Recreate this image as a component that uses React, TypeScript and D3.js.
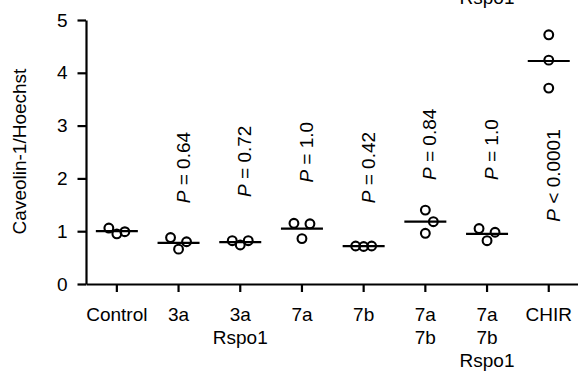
import * as d3 from 'd3';
import React, { useRef, useEffect } from 'react';

// groups on the x axis (lines of each label)
const categories = ['Control', '3a', '3a Rspo1', '7a', '7b', '7a 7b', '7a 7b Rspo1', 'CHIR'];
const categoryLines = [['Control'], ['3a'], ['3a', 'Rspo1'], ['7a'], ['7b'], ['7a', '7b'], ['7a', '7b', 'Rspo1'], ['CHIR']];

// Caveolin-1/Hoechst per replicate
const control = [1.06, 0.95, 0.99];
const g3a = [0.88, 0.66, 0.8];
const g3aRspo1 = [0.82, 0.74, 0.82];
const g7a = [1.15, 0.86, 1.14];
const g7b = [0.72, 0.71, 0.72];
const g7a7b = [1.4, 1.18, 0.96];
const g7a7bRspo1 = [1.05, 0.98, 0.82];
const chir = [4.72, 4.24, 3.71];
const values = [control, g3a, g3aRspo1, g7a, g7b, g7a7b, g7a7bRspo1, chir];

// horizontal scatter slot of each replicate
const slots = [[-1, 0, 1], [-1, 0, 1], [-1, 0, 1], [-1, 0, 1], [-1, 0, 1], [0, 1, 0], [-1, 1, 0], [0, 0, 0]];

// P values vs control, and where the rotated label starts (axis units)
const pLabels = [null, '= 0.64', '= 0.72', '= 1.0', '= 0.42', '= 0.84', '= 1.0', '< 0.0001'];
const pStart = [null, 1.53, 1.65, 1.92, 1.53, 1.97, 1.97, 1.18];

const yTicks = [0, 1, 2, 3, 4, 5];

function App() {
    const ref = useRef();
    const width = 578;
    const height = 373;
    const font = 'Liberation Sans, Arial, Helvetica, sans-serif';

    const x = d3.scaleBand().domain(categories).range([86, 579.6]);
    const y = d3.scaleLinear().domain([0, 5]).range([284, 20]);
    const cx = (c) => x(c) + x.bandwidth() / 2;

    useEffect(() => {
        const svg = d3.select(ref.current);
        svg.selectAll('*').remove();

        // stray label from panel above
        svg.append('text')
            .attr('x', cx(categories[6]))
            .attr('y', 4)
            .attr('text-anchor', 'middle')
            .attr('font-family', font)
            .attr('font-size', 19)
            .text('Rspo1');

        const yAxis = svg.append('g')
            .attr('transform', 'translate(86,0)')
            .call(d3.axisLeft(y).tickValues(yTicks).tickFormat(d3.format('d'))
                .tickSize(8.5).tickSizeOuter(0).tickPadding(10));
        yAxis.selectAll('path, line').attr('stroke', '#000').attr('stroke-width', 2.2);
        yAxis.selectAll('text').attr('font-family', font).attr('font-size', 19).attr('fill', '#000');

        const xAxis = svg.append('g')
            .attr('transform', 'translate(0,284)')
            .call(d3.axisBottom(x).tickSize(8).tickSizeOuter(0).tickFormat(() => ''));
        xAxis.selectAll('path, line').attr('stroke', '#000').attr('stroke-width', 2.2);

        // category labels
        const labels = svg.append('g');
        categories.forEach((c, i) => {
            const t = labels.append('text')
                .attr('text-anchor', 'middle')
                .attr('font-family', font)
                .attr('font-size', 19);
            categoryLines[i].forEach((line, j) => {
                t.append('tspan').attr('x', cx(c)).attr('y', 321 + j * 22.8).text(line);
            });
        });

        // y label
        svg.append('text')
            .attr('transform', 'translate(25.5,151.5) rotate(-90)')
            .attr('text-anchor', 'middle')
            .attr('font-family', font)
            .attr('font-size', 19)
            .text('Caveolin-1/Hoechst');

        // mean lines
        svg.append('g').selectAll('line')
            .data(categories)
            .join('line')
            .attr('x1', (c) => cx(c) - 21)
            .attr('x2', (c) => cx(c) + 21)
            .attr('y1', (c, i) => y(d3.mean(values[i])))
            .attr('y2', (c, i) => y(d3.mean(values[i])))
            .attr('stroke', '#000')
            .attr('stroke-width', 2.2);

        // points
        const pts = categories.flatMap((c, i) =>
            values[i].map((v, j) => ({ c, v, s: slots[i][j] })));
        svg.append('g').selectAll('circle')
            .data(pts)
            .join('circle')
            .attr('cx', (d) => cx(d.c) + d.s * 8)
            .attr('cy', (d) => y(d.v))
            .attr('r', 4.4)
            .attr('fill', 'none')
            .attr('stroke', '#000')
            .attr('stroke-width', 2.1);

        // P values
        categories.forEach((c, i) => {
            if (!pLabels[i]) return;
            const t = svg.append('text')
                .attr('transform', `translate(${cx(c) + 11},${y(pStart[i])}) rotate(-90)`)
                .attr('font-family', font)
                .attr('font-size', 19);
            t.append('tspan').attr('font-style', 'italic').text('P');
            t.append('tspan').text(' ' + pLabels[i]);
        });
    }, []);

    return (
        <div className="chart" style={{ position: 'absolute', left: 0, top: 0 }}>
            <svg ref={ref} width={width} height={height} style={{ display: 'block', background: '#fff' }}>
            </svg>
        </div>
    );
}

export default App;
